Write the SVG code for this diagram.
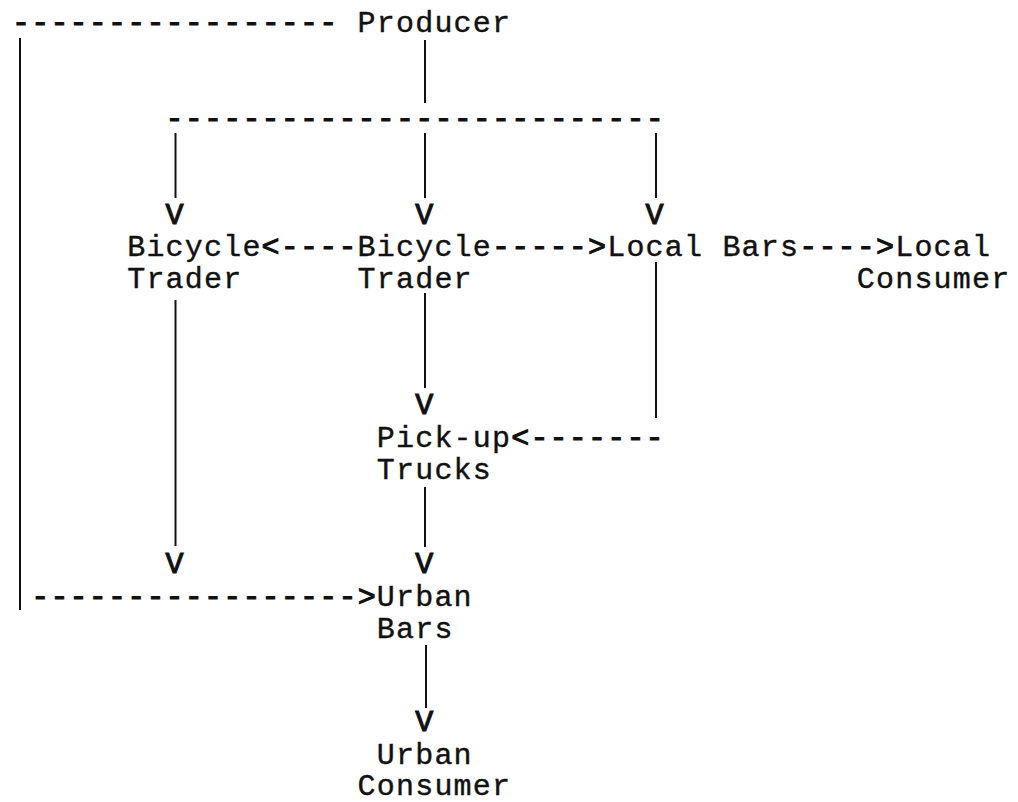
<svg xmlns="http://www.w3.org/2000/svg" width="1018" height="802" viewBox="0 0 1018 802">
<style>
text{font-family:"Liberation Mono","Courier New",monospace;font-size:30px;letter-spacing:1.2px;fill:#111;stroke:#111;stroke-width:0.4px}
#connectors text{stroke-width:1.1px}
.ln{stroke:#111;stroke-width:2;fill:none}
</style>
<rect width="1018" height="802" fill="#fff"/>
<g id="connectors">
<line class="ln" x1="20" y1="38" x2="20" y2="610"/>
<line class="ln" x1="425" y1="40" x2="425" y2="103"/>
<line class="ln" x1="175.5" y1="133" x2="175.5" y2="198"/>
<line class="ln" x1="175.5" y1="300" x2="175.5" y2="546"/>
<line class="ln" x1="425" y1="133" x2="425" y2="198"/>
<line class="ln" x1="425" y1="293" x2="425" y2="388"/>
<line class="ln" x1="425" y1="487" x2="425" y2="547"/>
<line class="ln" x1="426" y1="645" x2="426" y2="708"/>
<line class="ln" x1="656" y1="133" x2="656" y2="198"/>
<line class="ln" x1="656" y1="262" x2="656" y2="418"/>
<text x="12" y="32">-----------------</text>
<text x="165.6" y="128">--------------------------</text>
<text x="165.6" y="224">V</text>
<text x="415.2" y="224">V</text>
<text x="645.6" y="224">V</text>
<text x="261.6" y="256">&lt;----</text>
<text x="492" y="256">-----&gt;</text>
<text x="799.2" y="256">----&gt;</text>
<text x="415.2" y="414">V</text>
<text x="511.2" y="447">&lt;-------</text>
<text x="165.6" y="573">V</text>
<text x="415.2" y="573">V</text>
<text x="31.2" y="606">-----------------&gt;</text>
<text x="415.2" y="731">V</text>
</g>
<g id="producer"><text x="357.6" y="32">Producer</text></g>
<g id="bicycle-trader-left"><text x="127.2" y="256">Bicycle</text><text x="127.2" y="288">Trader</text></g>
<g id="bicycle-trader-centre"><text x="357.6" y="256">Bicycle</text><text x="357.6" y="288">Trader</text></g>
<g id="local-bars"><text x="607.2" y="256">Local Bars</text></g>
<g id="local-consumer"><text x="895.2" y="256">Local</text><text x="856.8" y="288">Consumer</text></g>
<g id="pickup-trucks"><text x="376.8" y="447">Pick-up</text><text x="376.8" y="479">Trucks</text></g>
<g id="urban-bars"><text x="376.8" y="606">Urban</text><text x="376.8" y="638">Bars</text></g>
<g id="urban-consumer"><text x="376.8" y="764">Urban</text><text x="357.6" y="795">Consumer</text></g>
</svg>
